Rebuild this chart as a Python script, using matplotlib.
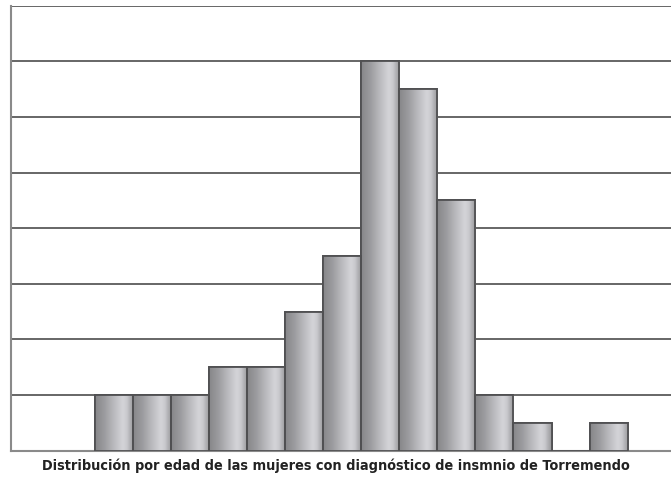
import numpy as np
import matplotlib
matplotlib.use("Agg")
import matplotlib.pyplot as plt
from matplotlib import font_manager

# Number of women per age group (bins left to right)
age_bins = list(range(14))
counts = [2, 2, 2, 3, 3, 5, 7, 14, 13, 9, 2, 1, 0, 1]
y_ticks = [0, 2, 4, 6, 8, 10, 12, 14, 16]
title = "Distribución por edad de las mujeres con diagnóstico de insmnio de Torremendo"

fig = plt.figure(figsize=(6.71, 4.81), dpi=100)
ax = fig.add_axes([11.3 / 671, 29.5 / 481, (671 - 11.3) / 671, 444.8 / 481])

bars = ax.bar(age_bins, counts, width=1.0, color="#b0b0b4",
              edgecolor="#505052", linewidth=1.3, zorder=3)

# Cylinder-like horizontal shading for each bar
pos = np.array([0.0, 0.08, 0.25, 0.45, 0.62, 0.72, 0.82, 0.92, 1.0])
lum = np.array([0.53, 0.56, 0.62, 0.72, 0.80, 0.84, 0.80, 0.68, 0.60])
xs = np.linspace(0, 1, 200)
shade = np.interp(xs, pos, lum)
rgb = np.stack([shade * 0.99, shade * 0.99, shade * 1.01], axis=-1).clip(0, 1)
grad = rgb[np.newaxis, :, :]
for b in bars:
    h = b.get_height()
    if h <= 0:
        continue
    x0 = b.get_x()
    im = ax.imshow(grad, extent=(x0, x0 + b.get_width(), 0, h),
                   aspect="auto", zorder=3.5, interpolation="bilinear")
    im.set_clip_path(b)
    ax.bar(x0 + b.get_width() / 2, h, width=b.get_width(), fill=False,
           edgecolor="#505052", linewidth=1.3, zorder=4)

ax.set_xlim(-2.7, 14.64)
ax.set_ylim(0, 16)
ax.set_yticks(y_ticks)
ax.yaxis.grid(True, color="#5a5a5a", linewidth=1.3)
ax.set_axisbelow(True)
ax.tick_params(left=False, bottom=False, labelleft=False, labelbottom=False)
for s in ["top", "right"]:
    ax.spines[s].set_visible(False)
ax.spines["left"].set_color("#8a8a8a")
ax.spines["left"].set_linewidth(1.5)
ax.spines["bottom"].set_color("#8a8a8a")
ax.spines["bottom"].set_linewidth(1.5)

# Caption below the plot, sized to span the same width as the plotted bars' area
txt = fig.text(336 / 671, 1 - 466 / 481, title, ha="center", va="center",
               fontsize=11.5, fontweight="bold", color="#222222",
               family="DejaVu Sans", fontstretch="condensed")
renderer = fig.canvas.get_renderer()
w = txt.get_window_extent(renderer).width
txt.set_fontsize(11.5 * 592 / w)

fig.savefig("out.png", dpi=100)
